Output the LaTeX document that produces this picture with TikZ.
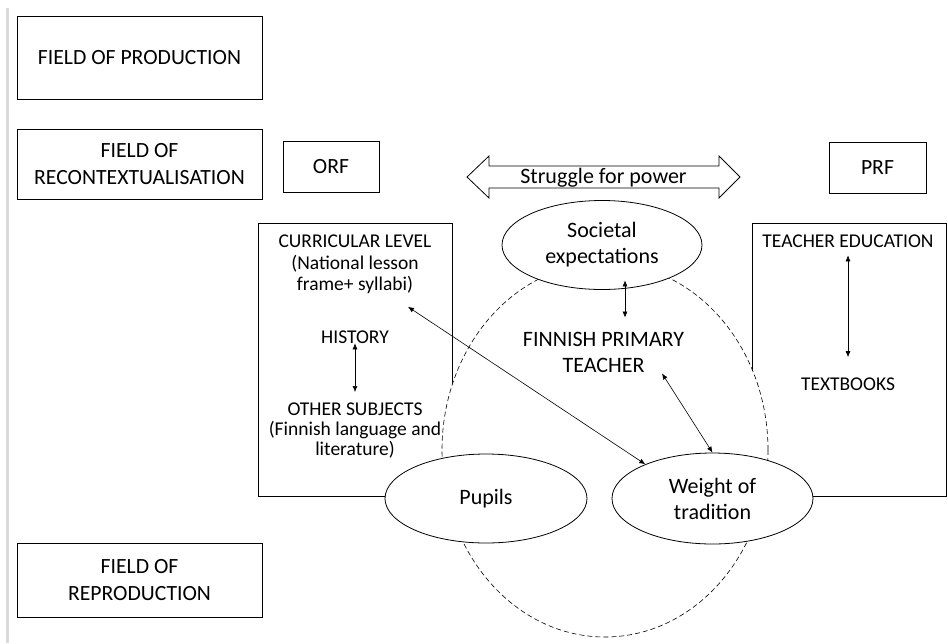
\documentclass[tikz,border=0pt]{standalone}
\usepackage{fontspec}
\setmainfont{Carlito}
\usetikzlibrary{arrows.meta,shapes.geometric}
\definecolor{edgegrey}{RGB}{218,218,218}
\begin{document}
\begin{tikzpicture}[x=1pt,y=-1pt,
  box/.style={draw, line width=0.8pt, inner sep=0pt, align=center},
  fieldtxt/.style={font=\fontsize{21.7}{27}\selectfont},
  oval/.style={draw, ellipse, fill=white, line width=0.8pt, inner sep=0pt,
    minimum width=200pt, minimum height=89pt, align=center,
    font=\fontsize{22}{26}\selectfont},
  boxtxt/.style={inner sep=0pt, align=center, font=\fontsize{19.5}{21.5}\selectfont},
  oneline/.style={inner sep=0pt, font=\fontsize{19.5}{21.5}\selectfont},
  bigbox/.style={draw, line width=0.8pt, inner sep=0pt, anchor=north west,
    minimum width=194pt, minimum height=273pt},
  twoway/.style={{Latex[length=6pt,width=5pt]}-{Latex[length=6pt,width=5pt]}, line width=0.6pt},
]
\useasboundingbox (0,0) rectangle (948,643);
\draw[line width=3pt, edgegrey] (7,8) -- (7,643);

% field boxes
\node[box, fieldtxt, minimum width=245pt, minimum height=83pt] (prod) at (139.5,57.5) {FIELD OF PRODUCTION};
\node[box, fieldtxt, minimum width=245pt, minimum height=70pt] (recon) at (139.5,164) {FIELD OF\\RECONTEXTUALISATION};
\node[box, fieldtxt, minimum width=245pt, minimum height=74pt] (repro) at (139.5,580) {FIELD OF\\REPRODUCTION};
\node[box, fieldtxt, minimum width=96pt, minimum height=51pt] (orf) at (331,166.5) {ORF};
\node[box, fieldtxt, minimum width=97pt, minimum height=51pt] (prf) at (877.5,167.5) {PRF};

% struggle arrow
\draw[line width=0.8pt] (467,177) -- (489,156) -- (489,166) -- (719,166) -- (719,156)
  -- (740,177) -- (719,198) -- (719,188) -- (489,188) -- (489,198) -- cycle;
\node[inner sep=0pt, anchor=base, font=\fontsize{22}{26}\selectfont] (power) at (603.5,183) {Struggle for power};

% big boxes
\node[bigbox] (lbox) at (258,223) {};
\node[bigbox] (rbox) at (752,223) {};

% dashed arena
\node[draw, ellipse, fill=white, dash pattern=on 5pt off 3pt, line width=0.6pt,
  inner sep=0pt, minimum width=326pt, minimum height=374pt] (arena) at (605,450) {};

% ovals
\node[oval] (soc) at (602,245) {Societal\\expectations};
\node[oval, minimum width=202pt] (pupils) at (486,498.5) {Pupils};
\node[oval, minimum width=201pt, minimum height=91pt] (weight) at (712.5,498.5) {Weight of\\tradition};

% texts
\node[inner sep=0pt, align=center, font=\fontsize{22}{26}\selectfont] (fin) at (603.5,352) {FINNISH PRIMARY\\TEACHER};
\node[boxtxt, anchor=north] (curr) at (355,235) {CURRICULAR LEVEL\\(National lesson\\frame+ syllabi)};
\node[oneline, anchor=base] (hist) at (355,343) {HISTORY};
\node[boxtxt, font=\fontsize{19.5}{20}\selectfont, anchor=north] (other) at (355,403) {OTHER SUBJECTS\\(Finnish language and\\literature)};
\node[oneline, anchor=base] (teach) at (848,247) {TEACHER EDUCATION};
\node[oneline, anchor=base] (books) at (848,390) {TEXTBOOKS};

% connectors
\draw[twoway] ([xshift=23pt,yshift=9.5pt]soc.south) -- ([xshift=21.5pt,yshift=14pt]fin.north);
\draw[twoway] ([xshift=58.5pt,yshift=-1pt]fin.south) -- (weight.north);
\draw[twoway] ([xshift=53pt,yshift=-12.6pt]curr.south) -- (weight.153);
\draw[twoway] (hist.south) -- ([yshift=11pt]other.north);
\draw[twoway] ([yshift=-8pt]teach.south) -- ([yshift=20pt]books.north);
\end{tikzpicture}
\end{document}
